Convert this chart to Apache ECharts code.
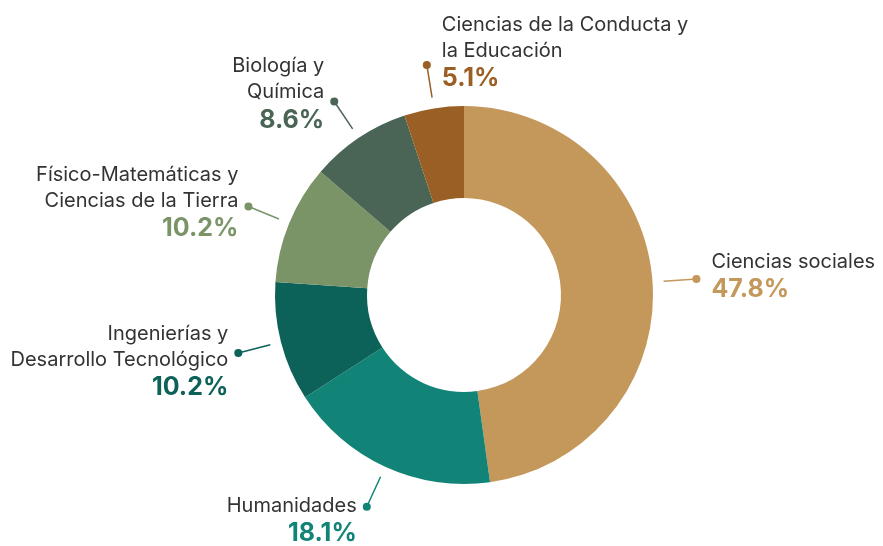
<!DOCTYPE html>
<html>
<head>
<meta charset="utf-8">
<script src="https://cdn.jsdelivr.net/npm/echarts@6/dist/echarts.min.js"></script>
<style>
html,body{margin:0;padding:0;background:#fff;}
#chart{width:883px;height:546px;}
</style>
</head>
<body>
<div id="chart"></div>
<script>
const categories = [
  "Ciencias sociales",
  "Humanidades",
  "Ingenierías y\nDesarrollo Tecnológico",
  "Físico-Matemáticas y\nCiencias de la Tierra",
  "Biología y\nQuímica",
  "Ciencias de la Conducta y\nla Educación"
];
const values = [47.8, 18.1, 10.2, 10.2, 8.6, 5.1];
const colors = ["#C4975A", "#118477", "#0C6158", "#7A9468", "#4A6555", "#9A5F24"];

// label styling per item (layout only)
const labelAlign = ["left", "right", "right", "right", "right", "left"];
const labelDy = [-2, 14, 9, -4, -7, -12];
const labelGap = 15;

const CX = 464, CY = 295, R_IN = 97, R_OUT = 189, LINE_START = 200, LINE_END = 233;

const total = values.reduce((a, b) => a + b, 0);
const mids = [];
let acc = 0;
values.forEach(v => { mids.push(acc + v / 2); acc += v; });

const chart = echarts.init(document.getElementById('chart'));
const FONT = 'Inter';

chart.setOption({
  backgroundColor: '#fff',
  animation: false,
  polar: { center: [CX, CY], radius: [0, LINE_END] },
  angleAxis: { type: 'value', min: 0, max: total, startAngle: 90, clockwise: true, show: false },
  radiusAxis: { type: 'value', min: 0, max: 1, show: false },
  series: [
    {
      type: 'pie',
      center: [CX, CY],
      radius: [R_IN, R_OUT],
      startAngle: 90,
      clockwise: true,
      avoidLabelOverlap: false,
      emphasis: { disabled: true },
      data: categories.map((c, i) => ({
        name: c,
        value: values[i],
        itemStyle: { color: colors[i] },
        label: {
          rich: {
            n: { fontFamily: FONT, fontSize: 20, color: '#333333', lineHeight: 26 },
            p: { fontFamily: FONT, fontSize: 25, fontWeight: 'bold', color: colors[i], lineHeight: 30 }
          }
        },
        labelLine: { lineStyle: { color: colors[i], width: 1.5 } }
      })),
      label: {
        show: true,
        position: 'outside',
        alignTo: 'none',
        formatter: p => {
          const lines = p.name.split('\n').map(s => '{n|' + s + '}');
          return lines.join('\n') + '\n{p|' + p.value.toFixed(1) + '%}';
        }
      },
      labelLine: { show: true, length: LINE_END - R_OUT, length2: 0, smooth: false },
      labelLayout: function (params) {
        const i = params.dataIndex;
        const pts = params.labelLinePoints;
        if (!pts) return {};
        const p0 = pts[0], p1 = pts[1];
        const dx = p1[0] - p0[0], dy = p1[1] - p0[1];
        const len = Math.sqrt(dx * dx + dy * dy) || 1;
        const off = LINE_START - R_OUT;
        const s = [p0[0] + dx / len * off, p0[1] + dy / len * off];
        const left = labelAlign[i] === 'left';
        return {
          x: p1[0] + (left ? labelGap : -labelGap + 5),
          y: p1[1] + labelDy[i],
          align: labelAlign[i],
          verticalAlign: 'middle',
          labelLinePoints: [s, p1, p1]
        };
      }
    },
    {
      type: 'scatter',
      coordinateSystem: 'polar',
      symbol: 'circle',
      symbolSize: 8,
      silent: true,
      z: 5,
      data: mids.map((m, i) => ({ value: [1, m], itemStyle: { color: colors[i], opacity: 1 } }))
    }
  ]
});
</script>
</body>
</html>
